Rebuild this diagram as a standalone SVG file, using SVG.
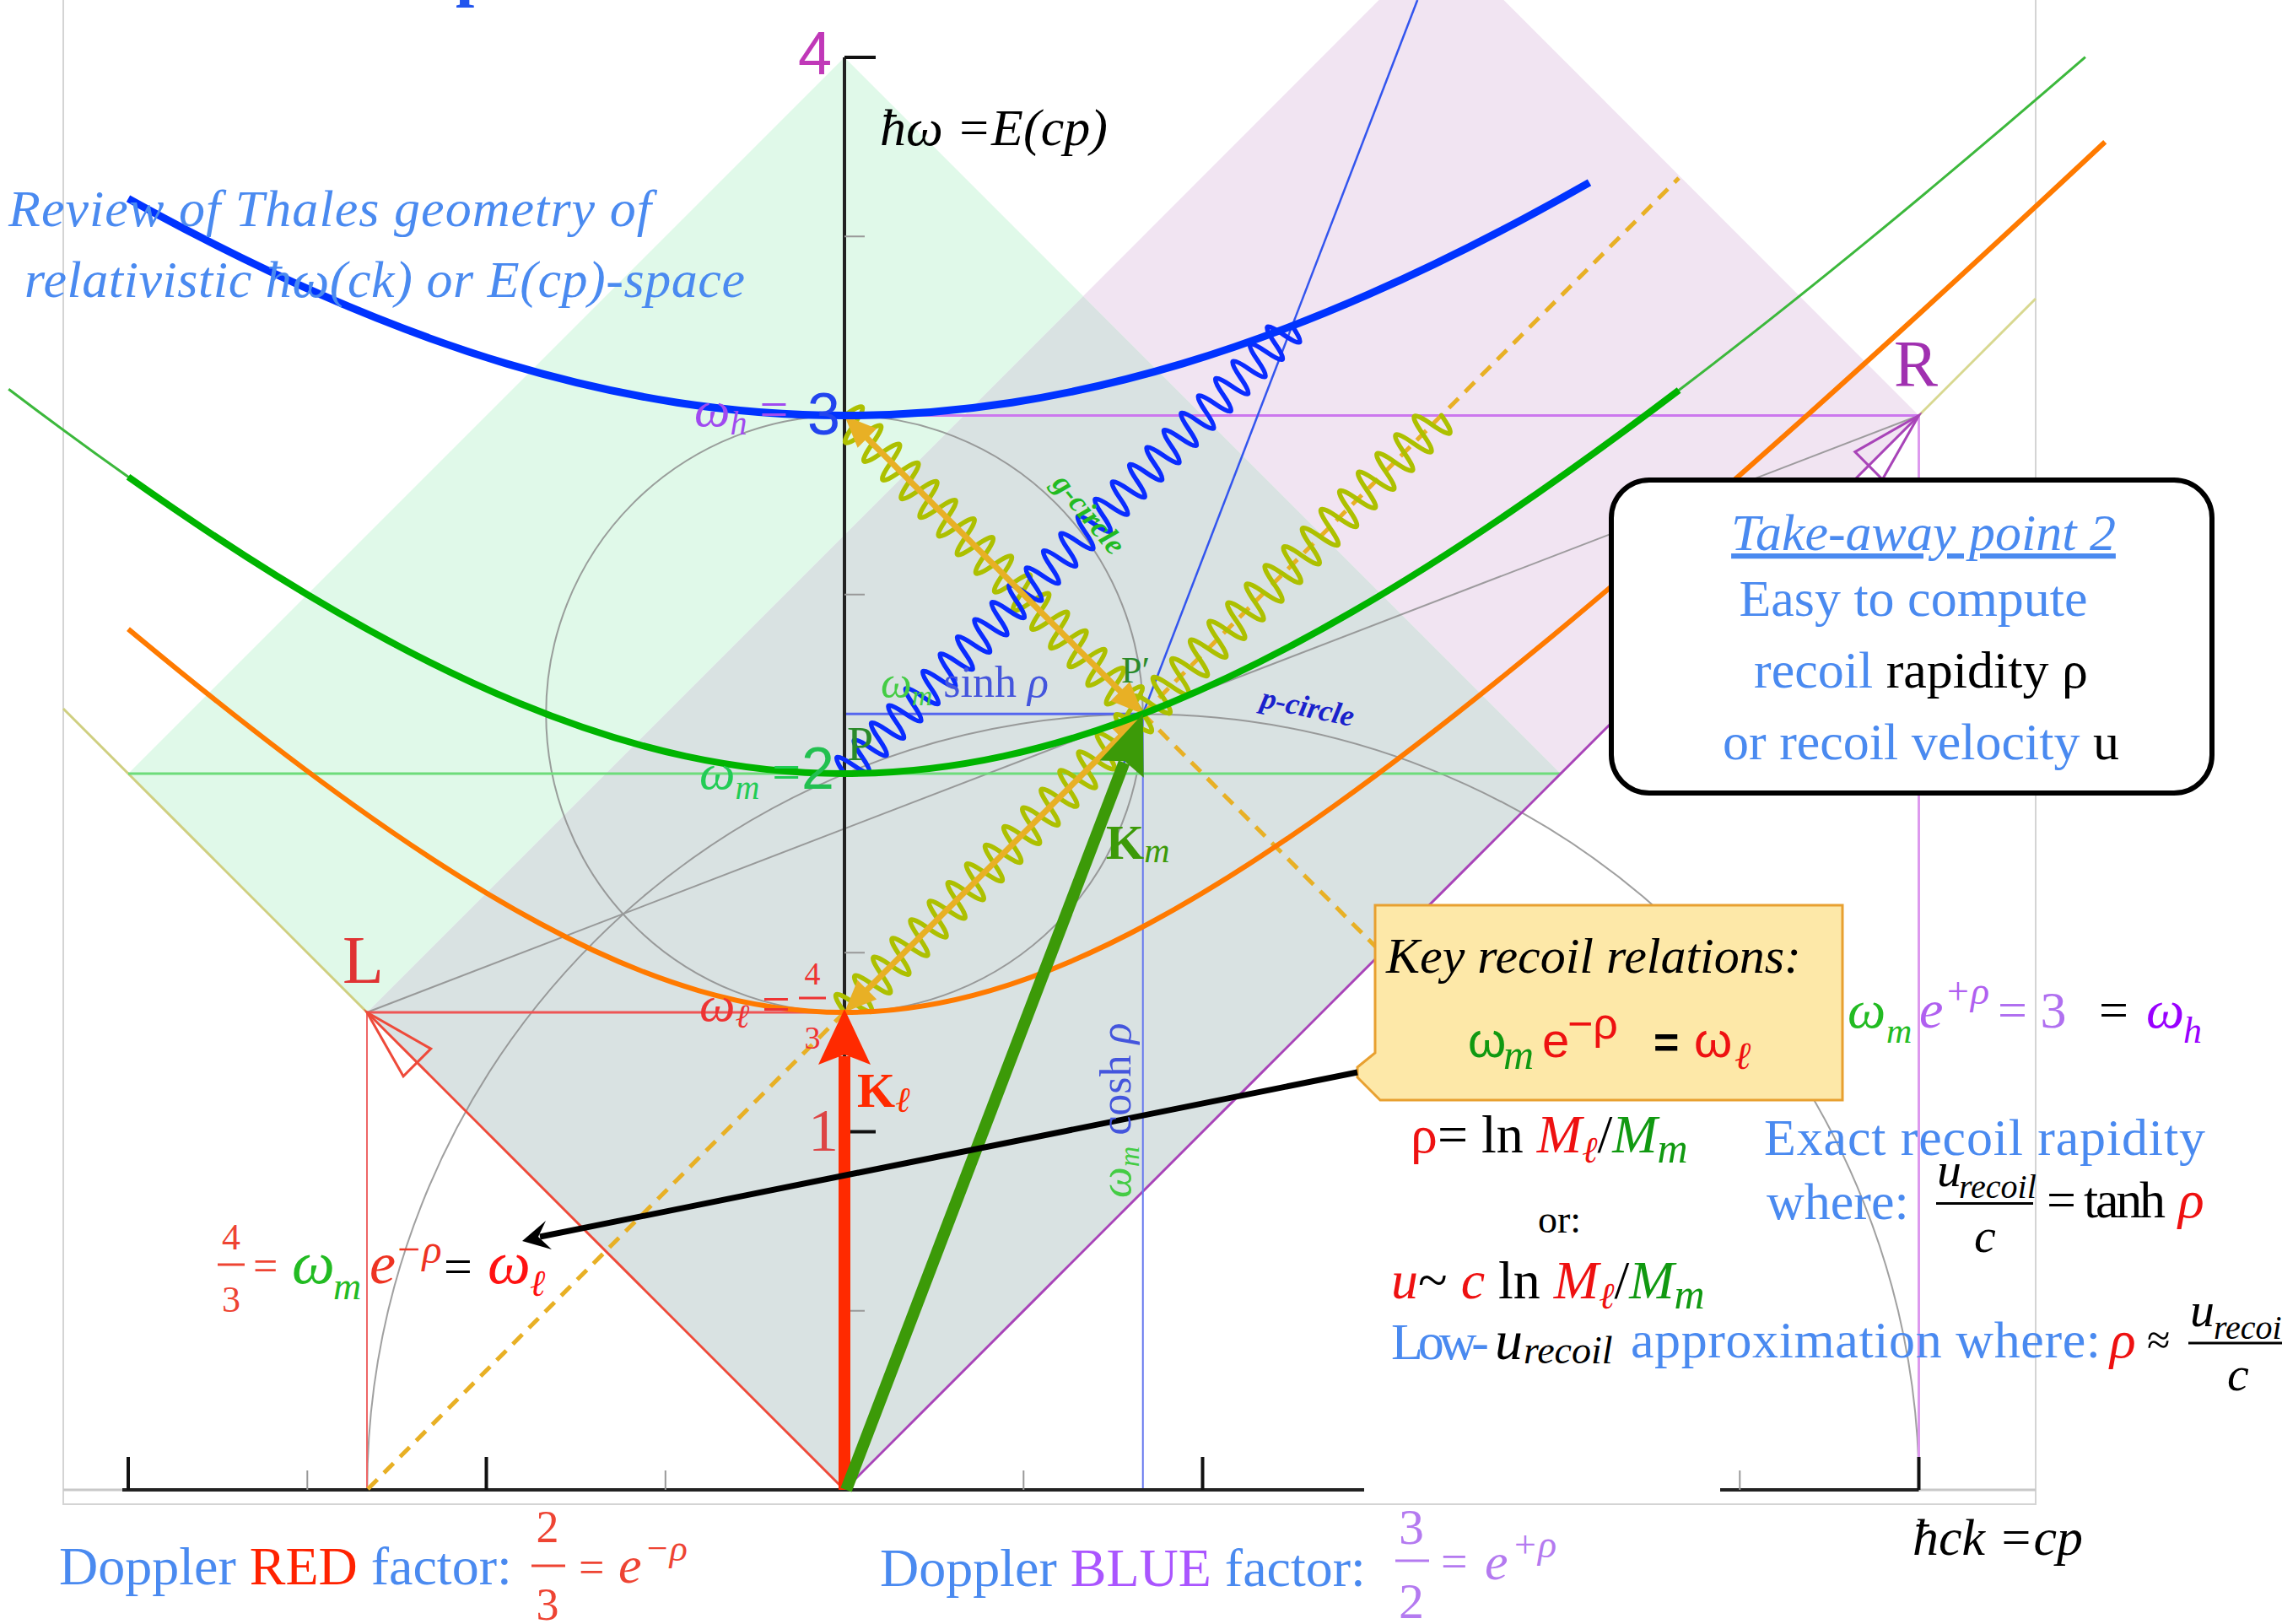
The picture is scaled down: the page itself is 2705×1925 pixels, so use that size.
<svg xmlns="http://www.w3.org/2000/svg" width="2705" height="1925" viewBox="0 0 2705 1925">
<style>
text{font-family:"Liberation Serif","Times New Roman",serif}
.s{font-family:"Liberation Sans",Arial,sans-serif}
.i{font-style:italic}
.b{font-weight:bold}
.lb{fill:#4a8af0}
.wave{fill:none;stroke-width:5.5;stroke-linejoin:round;stroke-linecap:round}
.gold{stroke:#e8b025;fill:none}
.goldf{fill:#e8b025}
.hyp{fill:none;stroke-linejoin:round;stroke-linecap:butt}
</style>
<defs>
<path id="w16" class="wave" d="M0,0q7.82,-44 15.64,0q7.82,44 15.64,0q7.82,-44 15.64,0q7.82,44 15.64,0q7.82,-44 15.64,0q7.82,44 15.64,0q7.82,-44 15.64,0q7.82,44 15.64,0q7.82,-44 15.64,0q7.82,44 15.64,0q7.82,-44 15.64,0q7.82,44 15.64,0q7.82,-44 15.64,0q7.82,44 15.64,0q7.82,-44 15.64,0q7.82,44 15.64,0q7.82,-44 15.64,0q7.82,44 15.64,0q7.82,-44 15.64,0q7.82,44 15.64,0q7.82,-44 15.64,0q7.82,44 15.64,0q7.82,-44 15.64,0q7.82,44 15.64,0q7.82,-44 15.64,0q7.82,44 15.64,0q7.82,-44 15.64,0q7.82,44 15.64,0q7.82,-44 15.64,0q7.82,44 15.64,0q7.82,-44 15.64,0q7.82,44 15.64,0"/>
<path id="w26" class="wave" d="M0,0q7.22,-40 14.43,0q7.22,40 14.43,0q7.22,-40 14.43,0q7.22,40 14.43,0q7.22,-40 14.43,0q7.22,40 14.43,0q7.22,-40 14.43,0q7.22,40 14.43,0q7.22,-40 14.43,0q7.22,40 14.43,0q7.22,-40 14.43,0q7.22,40 14.43,0q7.22,-40 14.43,0q7.22,40 14.43,0q7.22,-40 14.43,0q7.22,40 14.43,0q7.22,-40 14.43,0q7.22,40 14.43,0q7.22,-40 14.43,0q7.22,40 14.43,0q7.22,-40 14.43,0q7.22,40 14.43,0q7.22,-40 14.43,0q7.22,40 14.43,0q7.22,-40 14.43,0q7.22,40 14.43,0q7.22,-40 14.43,0q7.22,40 14.43,0q7.22,-40 14.43,0q7.22,40 14.43,0q7.22,-40 14.43,0q7.22,40 14.43,0q7.22,-40 14.43,0q7.22,40 14.43,0q7.22,-40 14.43,0q7.22,40 14.43,0q7.22,-40 14.43,0q7.22,40 14.43,0q7.22,-40 14.43,0q7.22,40 14.43,0q7.22,-40 14.43,0q7.22,40 14.43,0q7.22,-40 14.43,0q7.22,40 14.43,0q7.22,-40 14.43,0q7.22,40 14.43,0q7.22,-40 14.43,0q7.22,40 14.43,0q7.22,-40 14.43,0q7.22,40 14.43,0q7.22,-40 14.43,0q7.22,40 14.43,0"/>
</defs>
<rect width="2705" height="1925" fill="#fff"/>

<g id="regions">
<polygon points="1001,68 152,917 435,1200 1284,351" fill="#e0f9e9"/>
<polygon points="1284,351 1708.5,-74 2274.5,492.5 1850,917" fill="#f1e4f2"/>
<polygon points="1001,1766 435,1200 1284,351 1850,917" fill="#d9e2e2"/>
</g>

<g id="frame" fill="none">
<path d="M75,0V1783H2413V0" stroke="#d4d4d4" stroke-width="2"/>
<line x1="75" y1="1766" x2="2413" y2="1766" stroke="#c8c8c8" stroke-width="3"/>
</g>

<g id="circles" fill="none" stroke="#888" stroke-width="2" opacity="0.8">
<circle cx="1001" cy="846.25" r="353.75"/>
<path d="M435.25,1766A919.75,919.75 0 0 1 2274.75,1766"/>
<line x1="435" y1="1200" x2="2274.5" y2="492.5"/>
</g>

<g id="guides" fill="none">
<line x1="75" y1="840" x2="435" y2="1200" stroke="#cfcf80" stroke-width="3"/>
<line x1="2274.5" y1="492.5" x2="2413" y2="354" stroke="#d8d890" stroke-width="3"/>
<line x1="152" y1="917" x2="1850" y2="917" stroke="#6ddc7a" stroke-width="3"/>
<line x1="435" y1="1200" x2="1001" y2="1200" stroke="#ee5555" stroke-width="3"/>
<line x1="435" y1="1200" x2="435" y2="1766" stroke="#ee6666" stroke-width="2"/>
<line x1="1001" y1="1766" x2="435" y2="1200" stroke="#ee4a3a" stroke-width="3"/>
<polygon points="435,1200 510.7,1243.1 478.1,1275.7" stroke="#ee4a3a" stroke-width="3"/>
<line x1="1001" y1="492.5" x2="2274.5" y2="492.5" stroke="#cc77ee" stroke-width="3"/>
<line x1="2274.5" y1="492.5" x2="2274.5" y2="1766" stroke="#dd99ee" stroke-width="3"/>
<line x1="1001" y1="1766" x2="2274.5" y2="492.5" stroke="#a844b8" stroke-width="3"/>
<polygon points="2274.5,492.5 2231.4,568.2 2198.8,535.6" stroke="#a844b8" stroke-width="3"/>
<line x1="1001" y1="846.25" x2="1354.75" y2="846.25" stroke="#5566ee" stroke-width="3"/>
<line x1="1354.75" y1="846.25" x2="1354.75" y2="1766" stroke="#6677ee" stroke-width="2"/>
<line x1="1001" y1="1766" x2="1680.2" y2="0" stroke="#3355ee" stroke-width="2.5"/>
</g>

<g id="axes" fill="none">
<line x1="145" y1="1766" x2="2274.5" y2="1766" stroke="#222" stroke-width="4"/>
<line x1="1001" y1="1766" x2="1001" y2="68" stroke="#222" stroke-width="4"/>
<path d="M152,1766V1727M576.5,1766V1727M1001,1766V1727M1425.5,1766V1727M1850,1766V1727M2274.5,1766V1727M1001,68H1038M1001,492.5H1038M1001,917H1038M1001,1341.5H1038" stroke="#111" stroke-width="4"/>
<path d="M364.3,1766V1743M788.8,1766V1743M1213.3,1766V1743M1637.8,1766V1743M2062.3,1766V1743M1001,280.3H1025M1001,704.8H1025M1001,1129.3H1025M1001,1553.8H1025" stroke="#999" stroke-width="2"/>
</g>

<g id="dashed" class="gold" stroke-width="5" stroke-dasharray="16 11">
<line x1="1354.75" y1="846.25" x2="1632" y2="1123.5"/>
<line x1="1354.75" y1="846.25" x2="1990" y2="211"/>
<line x1="1001" y1="1200" x2="435" y2="1766"/>
</g>

<g id="photons">
<use href="#w16" transform="translate(1001,492.5) rotate(45)" stroke="#adc000"/>
<use href="#w16" transform="translate(1001,1200) rotate(-45)" stroke="#adc000"/>
<use href="#w16" transform="translate(1354.75,846.25) rotate(-45)" stroke="#adc000"/>
<use href="#w26" transform="translate(1001,917) rotate(-45)" stroke="#0a2cff"/>
</g>

<g id="connectors">
<line x1="1022" y1="513.5" x2="1334" y2="825.5" class="gold" stroke-width="7"/>
<polygon class="goldf" points="1001,492.5 1039.2,508.1 1016.6,530.7"/>
<polygon class="goldf" points="1354.75,846.25 1316.6,830.7 1339.2,808.1"/>
<line x1="1022" y1="1179" x2="1334" y2="867" class="gold" stroke-width="7"/>
<polygon class="goldf" points="1001,1200 1039.2,1184.4 1016.6,1161.8"/>
<polygon class="goldf" points="1354.75,846.25 1339.2,884.4 1316.6,861.8"/>
</g>

<g id="hyperbolas">
<path class="hyp" stroke="#0033ff" stroke-width="9" d="M152,235.4Q270.6,301.2 380.2,349.2Q493.3,398.8 599.8,430.9Q703.1,461.8 802.8,477.2Q902.5,492.5 1001,492.5Q1099.5,492.5 1199.2,477.2Q1298.9,461.8 1402.2,430.9Q1508.7,398.8 1621.8,349.2Q1746.9,294.4 1884,216.4"/>
<path class="hyp" stroke="#3cb83c" stroke-width="3" d="M10.2,461.2Q84.1,517.3 152,565.3Q284.3,658.9 399.1,725.3Q513,791.2 615.3,833.5Q717.4,875.7 812.7,896.4Q908,917 1001,917Q1094,917 1189.3,896.4Q1284.6,875.7 1386.7,833.5Q1489,791.2 1602.9,725.3Q1691.2,674.3 1789.4,607.4Q1883.8,543.1 1990.1,462.5Q2095.2,382.7 2214.7,284.9Q2334.6,186.6 2471.9,67.7"/>
<path class="hyp" stroke="#00b400" stroke-width="8" d="M152,565.3Q284.3,658.9 399.1,725.3Q513,791.2 615.3,833.5Q717.4,875.7 812.7,896.4Q908,917 1001,917Q1094,917 1189.3,896.4Q1284.6,875.7 1386.7,833.5Q1489,791.2 1602.9,725.3Q1691.2,674.3 1789.4,607.4Q1883.8,543.1 1990.1,462.5"/>
<path class="hyp" stroke="#ff7a00" stroke-width="6" d="M152,745.6Q301.3,869.9 420,954.9Q540.8,1041.4 640.7,1095Q740.6,1148.7 828.6,1174.3Q916.7,1200 1001,1200Q1085.3,1200 1173.4,1174.3Q1261.4,1148.7 1361.3,1095Q1461.2,1041.4 1582,954.9Q1702.8,868.4 1855.4,741.2Q1982.8,634.9 2141.1,493.2Q2298.2,352.5 2495.2,168.2"/>
</g>

<g id="vectors">
<line x1="1001" y1="1766" x2="1001" y2="1252" stroke="#ff2a00" stroke-width="14"/>
<polygon points="1001,1196 1032,1262 1001,1250 970,1262" fill="#ff2a00"/>
<line x1="1003" y1="1766" x2="1332.5" y2="904" stroke="#3c9a08" stroke-width="14"/>
<polygon points="1354.75,846.25 1355.7,921.7 1333.2,902.3 1303.5,901.6" fill="#3c9a08"/>
</g>

<rect x="1617" y="1306" width="422" height="462" fill="#fff"/>

<g id="key-box">
<path d="M1630,1073H2184V1304H1636L1609,1277V1265L1630,1248Z" fill="#fde8a8" stroke="#e8a030" stroke-width="3"/>
<text x="1643" y="1153" font-size="60" class="i">Key recoil relations:</text>
<text x="1740" y="1253" font-size="58" class="s" fill="#119911">ω</text>
<text x="1782" y="1267" font-size="50" class="i" fill="#119911">m</text>
<text x="1828" y="1253" font-size="58" class="s" fill="#ee1111">e</text>
<text x="1858" y="1231" font-size="52" class="s" fill="#ee1111">−ρ</text>
<text x="1960" y="1253" font-size="52" class="s b">=</text>
<text x="2008" y="1253" font-size="58" class="s" fill="#ee1111">ω</text>
<text x="2056" y="1267" font-size="46" class="i" fill="#ee1111">ℓ</text>
</g>

<g id="black-arrow">
<line x1="1609" y1="1271" x2="640" y2="1466" stroke="#000" stroke-width="7"/>
<polygon points="619,1471 647,1447 638,1466 654,1481" fill="#000"/>
</g>

<g id="takeaway-box">
<rect x="1910" y="569" width="712" height="371" rx="45" fill="#fff" stroke="#000" stroke-width="6"/>
<text x="2280" y="652" font-size="62" class="i lb" text-anchor="middle" text-decoration="underline">Take-away point 2</text>
<text x="2268" y="730" font-size="62" class="lb" text-anchor="middle">Easy to compute</text>
<text x="2277" y="815" font-size="62" text-anchor="middle"><tspan class="lb">recoil</tspan> rapidity ρ</text>
<text x="2277" y="900" font-size="62" text-anchor="middle"><tspan class="lb">or recoil velocity</tspan> u</text>
</g>

<g id="labels">
<text x="540" y="-8" font-size="80" class="b" fill="#2255ee">p</text>
<text x="1043" y="172" font-size="62" class="i">ħω =E(cp)</text>
<text x="10" y="268" font-size="62" class="i lb" textLength="762">Review of Thales geometry of</text>
<text x="29" y="352" font-size="62" class="i lb" textLength="854">relativistic ħω(ck) or E(cp)-space</text>
<text x="986" y="88" font-size="72" class="s" fill="#c038b8" text-anchor="end">4</text>
<text x="823" y="505" font-size="60" fill="#a04af0"><tspan class="i">ω</tspan><tspan class="i" font-size="40" dy="10">h</tspan><tspan dy="-10"> =</tspan></text>
<text x="957" y="515" font-size="70" class="s" fill="#2244ee">3</text>
<text x="829" y="935" font-size="60" fill="#22cc55"><tspan class="i">ω</tspan><tspan class="i" font-size="40" dy="12">m</tspan><tspan dy="-12"> =</tspan></text>
<text x="950" y="935" font-size="70" class="s" fill="#22c050">2</text>
<text x="829" y="1210" font-size="60" fill="#ee3333"><tspan class="i">ω</tspan><tspan class="i" font-size="40" dy="8">ℓ</tspan><tspan dy="-8"> =</tspan></text>
<text x="963" y="1167" font-size="38" fill="#ee3333" text-anchor="middle">4</text>
<line x1="947" y1="1183" x2="979" y2="1183" stroke="#ee3333" stroke-width="3"/>
<text x="963" y="1243" font-size="38" fill="#ee3333" text-anchor="middle">3</text>
<text x="958" y="1364" font-size="72" fill="#dd4444">1</text>
<text x="406" y="1165" font-size="80" fill="#e03333">L</text>
<text x="2245" y="457" font-size="78" fill="#a030b0">R</text>
<text x="1329" y="809" font-size="44" fill="#2a8a2a">P′</text>
<text x="1004" y="901" font-size="56" fill="#2a8a2a">P</text>
<text x="1044" y="826" font-size="52"><tspan class="i" fill="#44cc44">ω</tspan><tspan class="i" fill="#44cc44" font-size="34" dy="10">m</tspan><tspan fill="#4455dd" dy="-10"> sinh </tspan><tspan class="i" fill="#4455dd">ρ</tspan></text>
<text transform="translate(1340,1420) rotate(-90)" font-size="52"><tspan class="i" fill="#44cc44">ω</tspan><tspan class="i" fill="#44cc44" font-size="34" dy="10">m</tspan><tspan fill="#4455dd" dy="-10"> cosh </tspan><tspan class="i" fill="#4455dd">ρ</tspan></text>
<text transform="translate(1493,838) rotate(12)" font-size="36" class="i b" fill="#1a22cc">p-circle</text>
<text transform="translate(1246,574) rotate(50)" font-size="36" class="i b" fill="#22bb22">g-circle</text>
<text x="1311" y="1018" font-size="58" class="b" fill="#3c9a08">K<tspan class="i" font-weight="normal" font-size="42" dy="4">m</tspan></text>
<text x="1016" y="1312" font-size="58" class="b" fill="#ff2a00">K<tspan class="i" font-weight="normal" font-size="42" dy="6">ℓ</tspan></text>

<text x="274" y="1481" font-size="44" fill="#ee4433" text-anchor="middle">4</text>
<line x1="258" y1="1499" x2="290" y2="1499" stroke="#ee4433" stroke-width="3"/>
<text x="274" y="1555" font-size="44" fill="#ee4433" text-anchor="middle">3</text>
<text x="300" y="1518" font-size="52" fill="#ee4433">=</text>
<text x="346" y="1521" font-size="72" class="i" fill="#22bb22">ω</text>
<text x="395" y="1540" font-size="46" class="i" fill="#22bb22">m</text>
<text x="438" y="1521" font-size="70" class="i" fill="#ee3322">e</text>
<text x="468" y="1497" font-size="48" class="i" fill="#ee3322">−ρ</text>
<text x="526" y="1521" font-size="60">=</text>
<text x="578" y="1521" font-size="72" class="i" fill="#ff1111">ω</text>
<text x="628" y="1536" font-size="44" class="i" fill="#ff1111">ℓ</text>

<text x="1672" y="1366" font-size="64"><tspan fill="#ee1111">ρ</tspan><tspan>= ln </tspan><tspan class="i" fill="#ee1111">M</tspan><tspan class="i" fill="#ee1111" font-size="44" dy="12">ℓ</tspan><tspan dy="-12">/</tspan><tspan class="i" fill="#119911">M</tspan><tspan class="i" fill="#119911" font-size="50" dy="12">m</tspan></text>
<text x="1823" y="1461" font-size="46">or:</text>
<text x="1649" y="1539" font-size="64"><tspan class="i" fill="#ee1111">u</tspan><tspan>~ </tspan><tspan class="i" fill="#ee1111">c</tspan><tspan> ln </tspan><tspan class="i" fill="#ee1111">M</tspan><tspan class="i" fill="#ee1111" font-size="44" dy="12">ℓ</tspan><tspan dy="-12">/</tspan><tspan class="i" fill="#119911">M</tspan><tspan class="i" fill="#119911" font-size="50" dy="12">m</tspan></text>
<text x="1649" y="1611" font-size="62" class="lb" textLength="116">Low-</text>
<text x="1772" y="1611" font-size="66" class="i">u</text>
<text x="1806" y="1616" font-size="46" class="i">recoil</text>
<text x="1933" y="1609" font-size="62" class="lb" textLength="557">approximation where:</text>
<text x="2501" y="1609" font-size="64" class="i" fill="#ee1111">ρ</text>
<text x="2545" y="1605" font-size="50">≈</text>
<text x="2596" y="1572" font-size="58" class="i">u</text>
<text x="2624" y="1587" font-size="40" class="i">recoil</text>
<line x1="2594" y1="1592" x2="2705" y2="1592" stroke="#000" stroke-width="3"/>
<text x="2640" y="1648" font-size="58" class="i">c</text>

<text x="2091" y="1369" font-size="62" class="lb" textLength="523">Exact recoil rapidity</text>
<text x="2094" y="1445" font-size="62" class="lb">where:</text>
<text x="2296" y="1406" font-size="58" class="i">u</text>
<text x="2322" y="1420" font-size="40" class="i">recoil</text>
<line x1="2295" y1="1426.5" x2="2410" y2="1426.5" stroke="#000" stroke-width="3"/>
<text x="2340" y="1484" font-size="58" class="i">c</text>
<text x="2426" y="1443" font-size="62" textLength="141">= tanh</text>
<text x="2582" y="1443" font-size="64" class="i" fill="#ee1111">ρ</text>

<text x="2190" y="1218" font-size="64" class="i" fill="#22bb22">ω</text>
<text x="2236" y="1236" font-size="42" class="i" fill="#22bb22">m</text>
<text x="2275" y="1218" font-size="64" class="i" fill="#b060f0">e</text>
<text x="2305" y="1190" font-size="46" class="i" fill="#b060f0">+ρ</text>
<text x="2368" y="1218" font-size="62" fill="#b070f0">= 3</text>
<text x="2488" y="1218" font-size="62">=</text>
<text x="2544" y="1218" font-size="64" class="i" fill="#9900ff">ω</text>
<text x="2588" y="1236" font-size="44" class="i" fill="#9900ff">h</text>

<text x="70" y="1878" font-size="64"><tspan class="lb">Doppler </tspan><tspan fill="#ff2200">RED</tspan><tspan class="lb"> factor:</tspan></text>
<text x="649" y="1828" font-size="54" fill="#ee4433" text-anchor="middle">2</text>
<line x1="630" y1="1856" x2="670" y2="1856" stroke="#ee4433" stroke-width="3"/>
<text x="649" y="1920" font-size="54" fill="#ee4433" text-anchor="middle">3</text>
<text x="686" y="1876" font-size="54" fill="#ee4433">=</text>
<text x="733" y="1876" font-size="62" class="i" fill="#ee4433">e</text>
<text x="764" y="1850" font-size="44" class="i" fill="#ee4433">−ρ</text>

<text x="1043" y="1880" font-size="64"><tspan class="lb">Doppler </tspan><tspan fill="#aa55ff">BLUE</tspan><tspan class="lb"> factor:</tspan></text>
<text x="1673" y="1830" font-size="60" fill="#b47af0" text-anchor="middle">3</text>
<line x1="1654" y1="1850" x2="1694" y2="1850" stroke="#b47af0" stroke-width="3"/>
<text x="1673" y="1918" font-size="60" fill="#b47af0" text-anchor="middle">2</text>
<text x="1708" y="1870" font-size="56" fill="#b47af0">=</text>
<text x="1760" y="1872" font-size="62" class="i" fill="#b47af0">e</text>
<text x="1792" y="1846" font-size="46" class="i" fill="#b47af0">+ρ</text>

<text x="2267" y="1843" font-size="62" class="i">ħck =cp</text>
</g>
</svg>
